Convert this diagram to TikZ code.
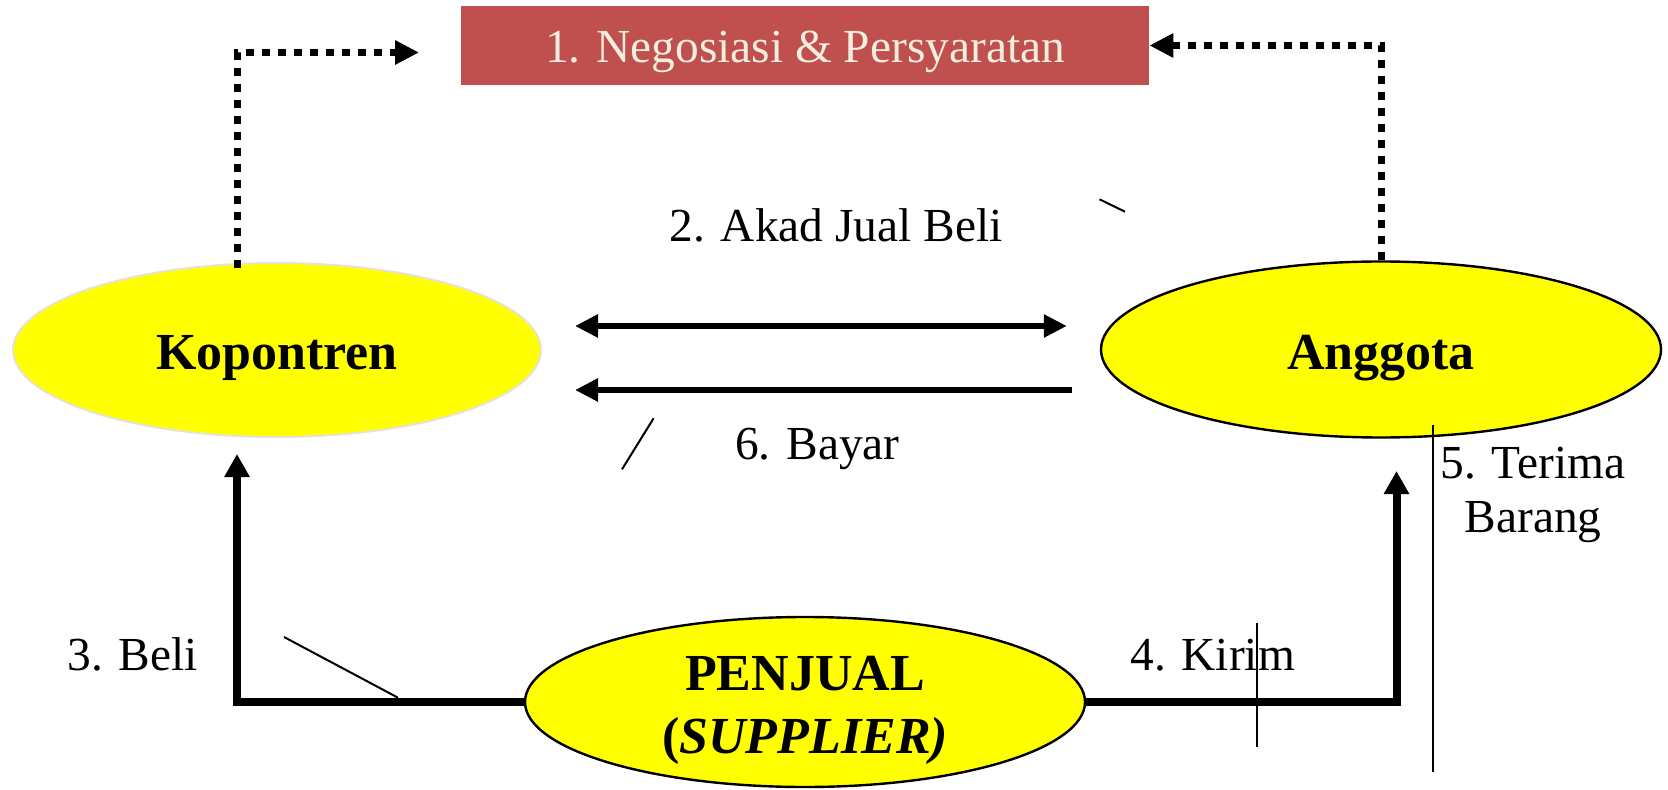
\documentclass[tikz,border=0pt]{standalone}
\usepackage{fontspec}
\setmainfont{Liberation Serif}
\usetikzlibrary{arrows.meta,shapes.geometric}
\definecolor{boxred}{HTML}{C0504D}
\definecolor{boxtext}{HTML}{F2EEDF}
\definecolor{paleedge}{HTML}{E6E3D6}
\definecolor{ovalfill}{HTML}{FFFF00}

\begin{document}
\begin{tikzpicture}[x=0.5pt,y=-0.5pt,
  txt/.style={font=\fontsize{23.7}{26.5}\selectfont, inner sep=0pt},
  boldtxt/.style={font=\fontsize{26}{31.5}\selectfont\bfseries, inner sep=0pt},
  oval/.style={ellipse, fill=ovalfill, draw=black, line width=1.2pt, inner sep=0pt,
    boldtxt, text height=20pt, text depth=0pt},
  stepbox/.style={rectangle, fill=boxred, draw=none, inner sep=0pt, text=boxtext,
    font=\fontsize{23.7}{26.5}\selectfont, text height=17.2pt, text depth=0pt},
  dotarrow/.style={line width=3.5pt, dash pattern=on 4pt off 4pt,
    -{Triangle[length=12pt,width=11.5pt]}},
  flowarrow/.style={line width=4pt, line join=miter,
    -{Triangle[length=11.5pt,width=12pt]}},
  dealarrow/.style={line width=3.25pt,
    {Triangle[length=11.5pt,width=11pt]}-{Triangle[length=11.5pt,width=11pt]}},
  payarrow/.style={line width=3.25pt, -{Triangle[length=11.5pt,width=11pt]}},
  hair/.style={line width=1pt}]

\useasboundingbox (0,0) rectangle (1668,790);

% parties
\node[stepbox, minimum width=344pt, minimum height=39.5pt] (box) at (805,45.5)
  {1. Negosiasi \& Persyaratan};
\node[oval, draw=paleedge, line width=1pt, minimum width=264pt, minimum height=87pt]
  (kop) at (277,350) {Kopontren};
\node[oval, minimum width=280pt, minimum height=88pt] (ang) at (1381,349.5) {Anggota};
\node[ellipse, fill=ovalfill, draw=black, line width=1.2pt,
  minimum width=280pt, minimum height=85pt] (pen) at (805,702) {};
\node[boldtxt, anchor=base] (penA) at (805,690) {PENJUAL};
\node[boldtxt, anchor=base] (penB) at (805,753) {(\textit{SUPPLIER)}};

% free ends of connectors
\coordinate (kopTop) at (237,268);
\coordinate (leftTip) at (419,52.5);
\coordinate (kopIn) at (237,454);
\coordinate (angIn) at (1396.5,471);
\coordinate (dealL) at ([yshift=12pt]kop.east);
\coordinate (dealR) at (dealL -| ang.west);
\coordinate (payL) at ([yshift=-20pt]kop.east);
\coordinate (payR) at (payL -| ang.west);

% negotiation
\draw[dotarrow] (kopTop) |- (leftTip);
\draw[dotarrow] (ang.north) |- (box.east);

% contract and payment
\draw[dealarrow, shorten <=16.5pt, shorten >=16.5pt] (dealL) -- (dealR);
\draw[payarrow, shorten <=14pt, shorten >=16.5pt] (payR) -- (payL);

% purchase and delivery
\draw[flowarrow] (pen.west) -| (kopIn);
\draw[flowarrow] (pen.east) -| (angIn);

% labels
\node[txt, anchor=base] (akad) at (836,241.7) {2. Akad Jual Beli};
\node[txt, anchor=base] (bayar) at (817.5,459.3) {6. Bayar};
\node[txt, anchor=base] (beli) at (132.6,670) {3. Beli};
\node[txt, anchor=base] (kirim) at (1212.7,670) {4. Kirim};
\node[txt, anchor=base] (terima) at (1533,478.7) {5. Terima};
\node[txt, anchor=base] (barang) at (1533,532) {Barang};

% loose strokes
\draw[hair] (1099.5,199.3) -- (1125,211.7);
\draw[hair] (653.6,418.3) -- (622,469.3);
\draw[hair] (284,637) -- (398,697.7);
\draw[hair] (1257.4,623.3) -- (1257.4,747.3);
\draw[hair] (1433,425) -- (1433,771.7);
\end{tikzpicture}
\end{document}
